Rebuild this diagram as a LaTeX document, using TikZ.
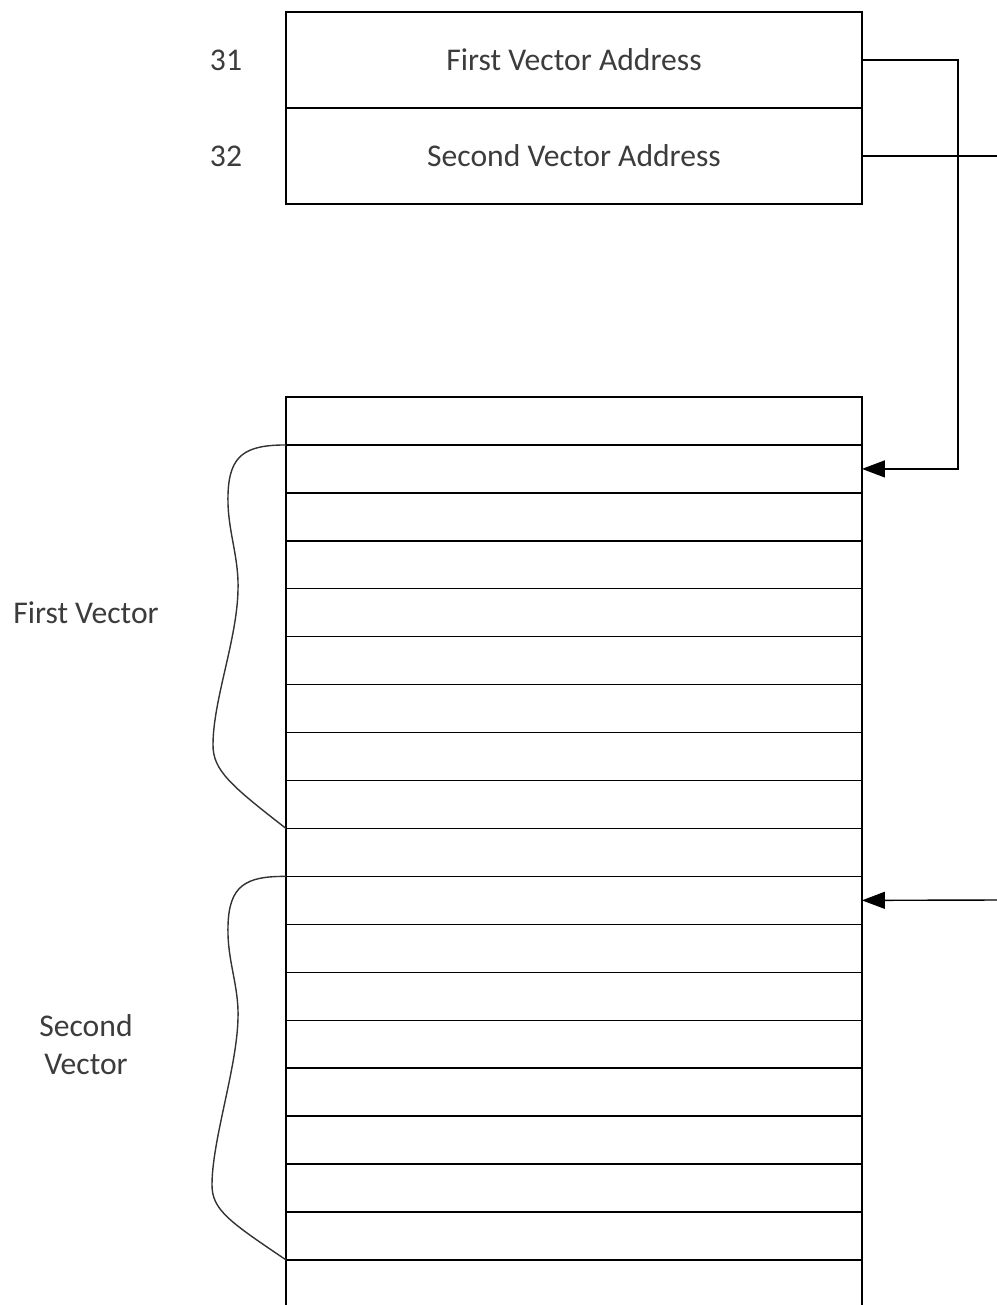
\documentclass[tikz,border=0pt]{standalone}
\usepackage{fontspec}
\setmainfont{Carlito}
\usepackage{tikz}
\usetikzlibrary{arrows.meta,positioning}
\definecolor{darkgray}{RGB}{60,60,60}

\begin{document}
\begin{tikzpicture}[
      x=0.02cm, y=-0.02cm,
      addr/.style={draw, line width=0.8pt, minimum width=11.52cm, minimum height=1.92cm,
        inner sep=0pt, outer sep=0pt, font=\fontsize{18}{21.6}\selectfont, text=darkgray},
      cell/.style={draw, line width=0.8pt, minimum width=11.52cm, minimum height=0.9588cm,
        inner sep=0pt, outer sep=0pt},
      lbl/.style={font=\fontsize{18}{21.6}\selectfont, text=darkgray, align=center},
      link/.style={line width=0.8pt},
      ptr/.style={line width=0.8pt, -{Triangle[length=0.46cm, width=0.34cm]}},
      brace/.style={line width=0.8pt, color=black!80}
    ]
      \useasboundingbox (0,0) rectangle (997,1305);
      % address table
      \node[addr] (addr1) at (574,60) {First Vector Address};
      \node[addr] (addr2) at (574,156) {Second Vector Address};
      \node[lbl] (n31) at (226,60) {31};
      \node[lbl] (n32) at (226,156) {32};
      % memory rows
      \foreach \i in {0,...,17}
        \node[cell] (r\i) at (574,{397+(\i+0.5)*47.94}) {};
      \draw[link] (r17.south west) -- ++(0,45);
      \draw[link] (r17.south east) -- ++(0,45);
      % pointers
      \coordinate (edge1) at (997,156);
      \coordinate (edge2) at (997,900);
      \draw[ptr] (addr1.east) -- (958,60) |- (r1.east);
      \draw[link] (addr2.east) -- (edge1);
      \draw[ptr] (edge2) -- (r10.east);
      % braces
      \draw[brace] (r1.north west) .. controls (245,445) and (229,455) .. (228,495)
        .. controls (227,530) and (239,555) .. (238,590)
        .. controls (237,640) and (213,700) .. (213,745)
        .. controls (213,770) and (230,785) .. (r8.south west);
      \draw[brace] (r10.north west) .. controls (245,876) and (229,886) .. (228,926)
        .. controls (227,961) and (239,985) .. (238,1018)
        .. controls (237,1068) and (212,1140) .. (212,1185)
        .. controls (212,1210) and (230,1222) .. (r17.south west);
      \node[lbl] (v1) at (86,613) {First Vector};
      \node[lbl] (v2) at (86,1045) {Second\\Vector};
    \end{tikzpicture}
\end{document}
